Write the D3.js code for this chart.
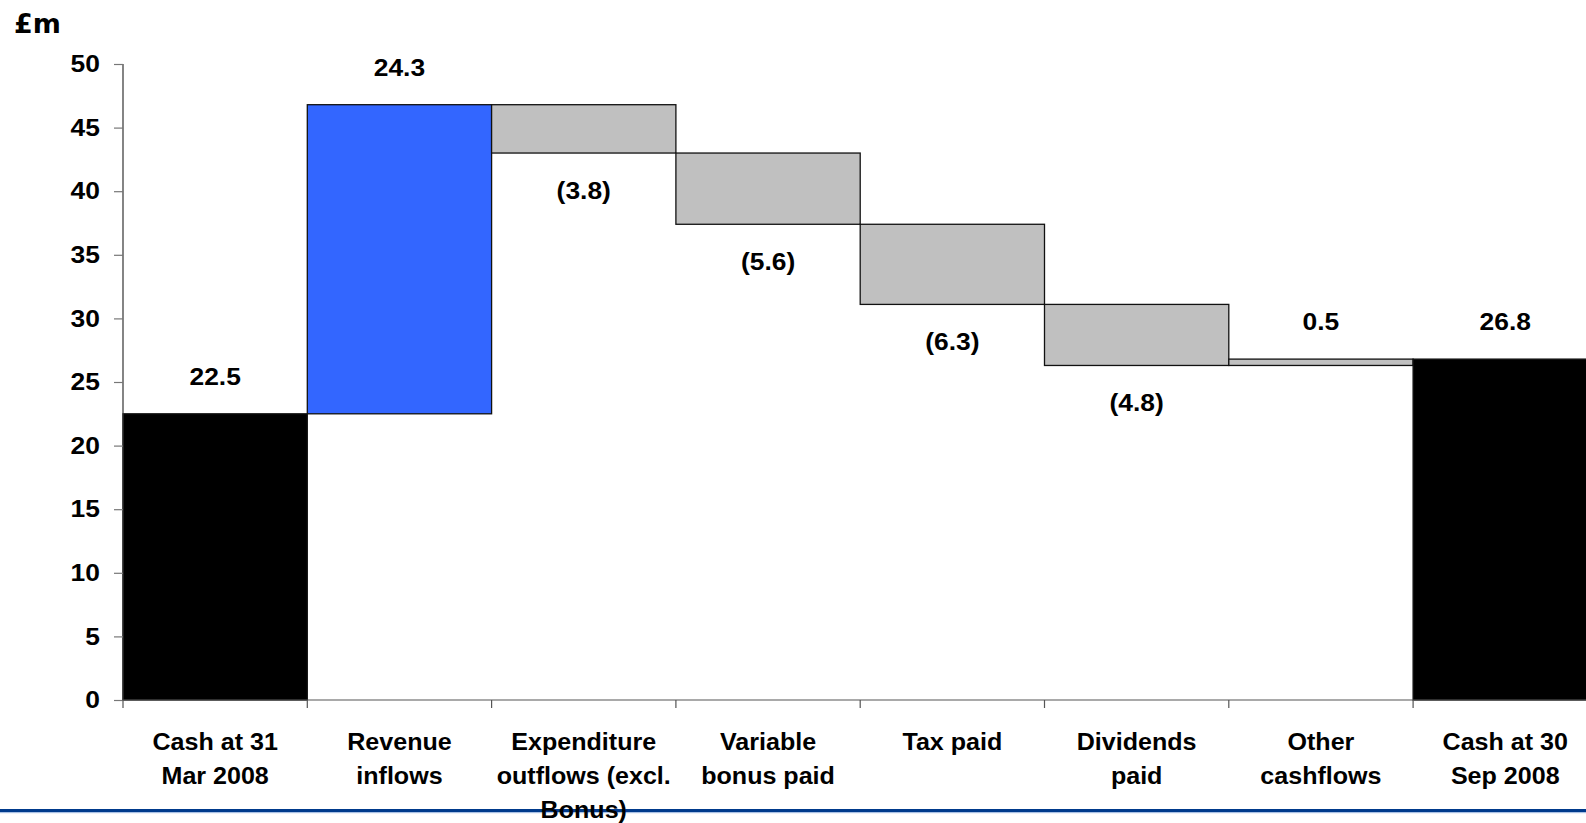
<!DOCTYPE html>
<html>
<head>
<meta charset="utf-8">
<script src="https://cdn.jsdelivr.net/npm/d3@7"></script>
<style>
  html, body { margin: 0; padding: 0; background: #fff; }
  svg { display: block; font-family: "Liberation Sans", Arial, sans-serif; font-weight: bold; }
</style>
</head>
<body>
<svg id="chart" width="1586" height="823"></svg>
<script>
// Cash flow bridge, £m
const categoryLines = [
  ["Cash at 31", "Mar 2008"],
  ["Revenue", "inflows"],
  ["Expenditure", "outflows (excl.", "Bonus)"],
  ["Variable", "bonus paid"],
  ["Tax paid"],
  ["Dividends", "paid"],
  ["Other", "cashflows"],
  ["Cash at 30", "Sep 2008"]
];
const changes = [22.5, 24.3, -3.8, -5.6, -6.3, -4.8, 0.5, 26.8];
const kinds = ["total", "inflow", "flow", "flow", "flow", "flow", "flow", "total"];
const valueLabels = ["22.5", "24.3", "(3.8)", "(5.6)", "(6.3)", "(4.8)", "0.5", "26.8"];
const yTicks = [0, 5, 10, 15, 20, 25, 30, 35, 40, 45, 50];

const fills = { total: "#000000", inflow: "#3366FF", flow: "#C0C0C0" };

// running totals -> bar extents
let running = 0;
const bars = changes.map((v, i) => {
  let lo, hi;
  if (kinds[i] === "total") { lo = 0; hi = v; running = v; }
  else { const start = running; running = start + v; lo = Math.min(start, running); hi = Math.max(start, running); }
  return { i, v, lo, hi, kind: kinds[i], label: valueLabels[i] };
});

const svg = d3.select("#chart");
const left = 123, band = 184.3;
const x = d3.scaleBand().domain(d3.range(categoryLines.length)).range([left, left + band * categoryLines.length]).padding(0);
const y = d3.scaleLinear().domain([0, 50]).range([700, 64]);

// unit label
svg.append("text").attr("x", 14).attr("y", 33).attr("font-size", 27)
  .attr("font-family", "DejaVu Sans, Verdana, sans-serif").attr("fill", "#000").text("£m");

// bars
svg.append("g").selectAll("rect").data(bars).join("rect")
  .attr("x", d => x(d.i))
  .attr("y", d => y(d.hi))
  .attr("width", x.bandwidth())
  .attr("height", d => y(d.lo) - y(d.hi))
  .attr("fill", d => fills[d.kind])
  .attr("stroke", "#111")
  .attr("stroke-width", 1.3);

// value labels: above for rises/totals, below for falls
svg.append("g").selectAll("text").data(bars).join("text")
  .attr("transform", d => `translate(${x(d.i) + x.bandwidth() / 2},${d.v >= 0 ? y(d.hi) - 29 : y(d.lo) + 46}) scale(1.1,1)`)
  .attr("text-anchor", "middle")
  .attr("font-size", 24)
  .attr("fill", "#000")
  .text(d => d.label);

// y axis
const yAxis = svg.append("g").attr("transform", `translate(${left},0)`)
  .call(d3.axisLeft(y).tickValues(yTicks).tickSize(9).tickPadding(12).tickFormat(d3.format("d")));
yAxis.select(".domain").attr("stroke", "#333").attr("stroke-width", 1.2).attr("d", `M0,${y(50)}V${y(0)}`);
yAxis.selectAll(".tick line").attr("stroke", "#777").attr("stroke-width", 1.2);
yAxis.selectAll(".tick text").attr("font-size", 24).attr("font-weight", "bold").attr("fill", "#000")
  .attr("font-family", "Liberation Sans, Arial, sans-serif")
  .attr("transform", "scale(1.1,1)");

// x axis baseline with ticks between categories
const xg = svg.append("g");
xg.append("line").attr("x1", left).attr("x2", x.range()[1]).attr("y1", y(0)).attr("y2", y(0))
  .attr("stroke", "#555").attr("stroke-width", 1.2);
xg.selectAll("line.sep").data(d3.range(categoryLines.length + 1)).join("line")
  .attr("class", "sep")
  .attr("x1", i => left + i * x.step()).attr("x2", i => left + i * x.step())
  .attr("y1", y(0)).attr("y2", y(0) + 8)
  .attr("stroke", "#555").attr("stroke-width", 1.2);

// footer rule
svg.append("rect").attr("x", 0).attr("y", 809).attr("width", 1586).attr("height", 3).attr("fill", "#003A8C");
svg.append("rect").attr("x", 0).attr("y", 812).attr("width", 1586).attr("height", 1.2).attr("fill", "#A9C0E4");

// category labels
const cat = svg.append("g").selectAll("text").data(categoryLines).join("text")
  .attr("transform", (d, i) => `translate(${x(i) + x.bandwidth() / 2},0) scale(1.045,1)`)
  .attr("text-anchor", "middle")
  .attr("font-size", 24)
  .attr("fill", "#000");
cat.each(function (lines) {
  d3.select(this).selectAll("tspan").data(lines).join("tspan")
    .attr("x", 0)
    .attr("y", (d, k) => 750 + k * 34)
    .text(d => d);
});
</script>
</body>
</html>
